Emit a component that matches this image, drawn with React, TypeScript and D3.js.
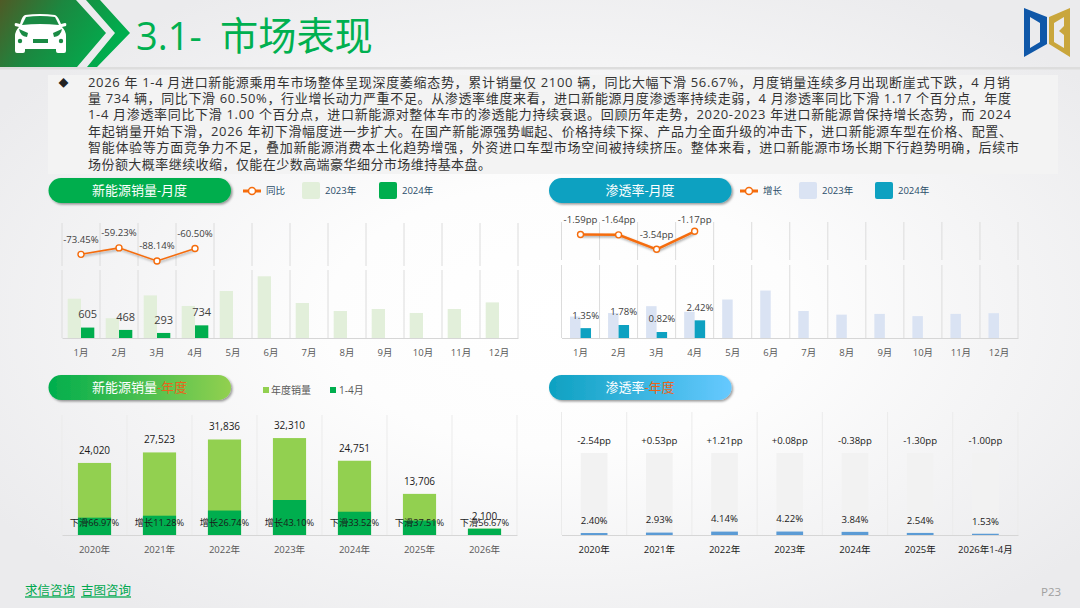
import React, { useEffect, useRef } from "react";
import * as d3 from "d3";

const months = ["1月", "2月", "3月", "4月", "5月", "6月", "7月", "8月", "9月", "10月", "11月", "12月"];

const sales2023 = [2279, 1148, 2470, 1858, 2726, 3580, 2030, 1566, 1682, 1450, 1682, 2065];
const sales2024 = [605, 468, 293, 734];
const salesYoy = [-73.45, -59.23, -88.14, -60.5];

const rate2023 = [2.94, 3.42, 4.36, 3.59, 5.27, 6.5, 3.7, 3.2, 3.3, 3.0, 3.3, 3.4];
const rate2024 = [1.35, 1.78, 0.82, 2.42];
const rateDiff = [-1.59, -1.64, -3.54, -1.17];

const salesYears = ["2020年", "2021年", "2022年", "2023年", "2024年", "2025年", "2026年"];
const yearTotal = [24020, 27523, 31836, 32310, 24751, 13706, 2100];
const yearJanApr = [5779, 6431, 8151, 11665, 7755, 4846, 2100];
const yearChange = ["下滑66.97%", "增长11.28%", "增长26.74%", "增长43.10%", "下滑33.52%", "下滑37.51%", "下滑56.67%"];

const rateYears = ["2020年", "2021年", "2022年", "2023年", "2024年", "2025年", "2026年1-4月"];
const yearRate = [2.4, 2.93, 4.14, 4.22, 3.84, 2.54, 1.53];
const yearRateDiff = ["-2.54pp", "+0.53pp", "+1.21pp", "+0.08pp", "-0.38pp", "-1.30pp", "-1.00pp"];

const summaryLines = [
  "2026 年 1-4 月进口新能源乘用车市场整体呈现深度萎缩态势，累计销量仅 2100 辆，同比大幅下滑 56.67%，月度销量连续多月出现断崖式下跌，4 月销",
  "量 734 辆，同比下滑 60.50%，行业增长动力严重不足。从渗透率维度来看，进口新能源月度渗透率持续走弱，4 月渗透率同比下滑 1.17 个百分点，年度",
  "1-4 月渗透率同比下滑 1.00 个百分点，进口新能源对整体车市的渗透能力持续衰退。回顾历年走势，2020-2023 年进口新能源曾保持增长态势，而 2024",
  "年起销量开始下滑，2026 年初下滑幅度进一步扩大。在国产新能源强势崛起、价格持续下探、产品力全面升级的冲击下，进口新能源车型在价格、配置、",
  "智能体验等方面竞争力不足，叠加新能源消费本土化趋势增强，外资进口车型市场空间被持续挤压。整体来看，进口新能源市场长期下行趋势明确，后续市",
  "场份额大概率继续收缩，仅能在少数高端豪华细分市场维持基本盘。",
];
const summaryWidths = [922, 923, 923, 924, 931, 403];

const FONT = '"Open Sans","Noto Sans CJK SC",sans-serif';
const GREEN = "#00ae4e";
const TEAL = "#0ea1c1";
const ORANGE = "#f56c0c";

type Sel = d3.Selection<SVGSVGElement, unknown, null, undefined>;

function gridLines(svg: Sel, xs: number[], y0: number, y1: number, color = "#dcdcdc") {
  svg
    .append("g")
    .selectAll("line")
    .data(xs)
    .enter()
    .append("line")
    .attr("x1", (d) => d)
    .attr("x2", (d) => d)
    .attr("y1", y0)
    .attr("y2", y1)
    .attr("stroke", color)
    .attr("stroke-width", 1);
}

function bottomAxis(svg: Sel, x: d3.ScaleBand<string>, y: number, color: string) {
  const g = svg
    .append("g")
    .attr("transform", `translate(0,${y})`)
    .call(d3.axisBottom(x).tickSize(0).tickPadding(11));
  g.select(".domain").attr("stroke", "#d6d6d6").attr("stroke-width", 1.2);
  g.selectAll("text").attr("font-family", FONT).attr("font-size", 9.5).attr("fill", color);
}

function label(svg: Sel, x: number, y: number, text: string, size = 10, fill = "#404040", anchor = "middle") {
  return svg
    .append("text")
    .attr("x", x)
    .attr("y", y)
    .attr("dy", "0.35em")
    .attr("text-anchor", anchor)
    .attr("font-family", FONT)
    .attr("font-size", size)
    .attr("fill", fill)
    .text(text);
}

function pill(svg: Sel, x: number, y: number, fill: string, parts: [string, string][]) {
  svg
    .append("rect")
    .attr("x", x)
    .attr("y", y)
    .attr("width", 182.5)
    .attr("height", 25)
    .attr("rx", 12.5)
    .attr("fill", fill)
    .attr("filter", "url(#pillShadow)");
  const t = label(svg, x + 91, y + 12.5, "", 13, "#fff");
  parts.forEach(([s, c]) => t.append("tspan").attr("fill", c).text(s));
}

function monthlyPanel(
  svg: Sel,
  opts: {
    left: number;
    right: number;
    lineTop: number;
    lineBottom: number;
    barTop: number;
    barDomain: number;
    lineDomain: number;
    lineY0: number;
    barWidth: number;
    prev: number[];
    curr: number[];
    change: number[];
    prevColor: string;
    currColor: string;
    currLabel: (d: number) => string;
    changeLabel: (d: number) => string;
    strokeWidth: number;
    valueSize: number;
    labelTop: number;
  }
) {
  const base = 338;
  const x = d3.scaleBand(months, [opts.left, opts.right]);
  const bw = x.bandwidth();
  const xs = months.map((m) => x(m)!).concat(opts.right);
  gridLines(svg, xs, opts.lineTop, opts.lineBottom);
  gridLines(svg, xs, opts.barTop, base);

  const y = d3.scaleLinear([0, opts.barDomain], [base, opts.barTop]);
  const inner = d3.scaleBand(["prev", "curr"], [bw / 2 - opts.barWidth, bw / 2 + opts.barWidth]);

  svg
    .append("g")
    .selectAll("rect")
    .data(opts.prev)
    .enter()
    .append("rect")
    .attr("x", (_, i) => x(months[i])! + inner("prev")!)
    .attr("y", (d) => y(d))
    .attr("width", inner.bandwidth())
    .attr("height", (d) => base - y(d))
    .attr("fill", opts.prevColor);

  svg
    .append("g")
    .selectAll("rect")
    .data(opts.curr)
    .enter()
    .append("rect")
    .attr("x", (_, i) => x(months[i])! + inner("curr")!)
    .attr("y", (d) => y(d))
    .attr("width", inner.bandwidth())
    .attr("height", (d) => base - y(d))
    .attr("fill", opts.currColor);

  opts.curr.forEach((d, i) => {
    label(
      svg,
      x(months[i])! + inner("curr")! + inner.bandwidth() / 2,
      y(d) - 13,
      opts.currLabel(d),
      opts.valueSize,
      "#404040"
    );
  });

  const yl = d3.scaleLinear([opts.lineDomain, 0], [opts.lineBottom + 0.4, opts.lineY0]);
  const cx = (i: number) => x(months[i])! + bw / 2;
  const line = d3
    .line<number>()
    .x((_, i) => cx(i))
    .y((d) => yl(d));
  svg
    .append("path")
    .attr("d", line(opts.change))
    .attr("fill", "none")
    .attr("stroke", ORANGE)
    .attr("stroke-width", opts.strokeWidth)
    .attr("filter", "url(#lineShadow)");
  svg
    .append("g")
    .selectAll("circle")
    .data(opts.change)
    .enter()
    .append("circle")
    .attr("cx", (_, i) => cx(i))
    .attr("cy", (d) => yl(d))
    .attr("r", 3)
    .attr("fill", "#fff")
    .attr("stroke", ORANGE)
    .attr("stroke-width", 1.4);
  opts.change.forEach((d, i) => {
    label(svg, cx(i), Math.max(yl(d) - 15, opts.labelTop), opts.changeLabel(d), 9.6, "#404040");
  });

  bottomAxis(svg, x, base, "#595959");
}

function legendMarker(svg: Sel, x: number, y: number) {
  svg
    .append("line")
    .attr("x1", x)
    .attr("x2", x + 18)
    .attr("y1", y)
    .attr("y2", y)
    .attr("stroke", ORANGE)
    .attr("stroke-width", 3);
  svg
    .append("circle")
    .attr("cx", x + 9)
    .attr("cy", y)
    .attr("r", 3.5)
    .attr("fill", "#fff")
    .attr("stroke", ORANGE)
    .attr("stroke-width", 1.5);
}

function legendSwatch(svg: Sel, x: number, fill: string, text: string) {
  svg
    .append("rect")
    .attr("x", x)
    .attr("y", 182)
    .attr("width", 18)
    .attr("height", 17)
    .attr("rx", 2)
    .attr("fill", fill);
  label(svg, x + 23, 191, text, 9.5, "#2a4d69", "start");
}

function drawChart(svg: Sel) {
  const defs = svg.append("defs");
  const bg = defs.append("radialGradient").attr("id", "bg").attr("cx", "52%").attr("cy", "52%").attr("r", "62%");
  bg.append("stop").attr("offset", "0%").attr("stop-color", "#ffffff");
  bg.append("stop").attr("offset", "35%").attr("stop-color", "#fdfdfd");
  bg.append("stop").attr("offset", "100%").attr("stop-color", "#ebebed");

  const head = defs
    .append("linearGradient")
    .attr("id", "head")
    .attr("x1", "0%")
    .attr("y1", "0%")
    .attr("x2", "100%")
    .attr("y2", "35%");
  head.append("stop").attr("offset", "0%").attr("stop-color", "#4f5a26");
  head.append("stop").attr("offset", "45%").attr("stop-color", "#1b8840");
  head.append("stop").attr("offset", "100%").attr("stop-color", "#00ae4e");

  const pillA = defs.append("linearGradient").attr("id", "pillA");
  pillA.append("stop").attr("offset", "0%").attr("stop-color", GREEN);
  pillA.append("stop").attr("offset", "100%").attr("stop-color", "#92d050");
  const pillB = defs.append("linearGradient").attr("id", "pillB");
  pillB.append("stop").attr("offset", "0%").attr("stop-color", TEAL);
  pillB.append("stop").attr("offset", "100%").attr("stop-color", "#66c9ff");

  defs
    .append("filter")
    .attr("id", "pillShadow")
    .attr("x", "-5%")
    .attr("y", "-20%")
    .attr("width", "110%")
    .attr("height", "150%")
    .append("feDropShadow")
    .attr("dx", 1.5)
    .attr("dy", 1.5)
    .attr("stdDeviation", 1.2)
    .attr("flood-color", "#000")
    .attr("flood-opacity", 0.4);
  defs
    .append("filter")
    .attr("id", "lineShadow")
    .attr("x", "-5%")
    .attr("y", "-30%")
    .attr("width", "110%")
    .attr("height", "180%")
    .append("feDropShadow")
    .attr("dx", 1)
    .attr("dy", 1.5)
    .attr("stdDeviation", 1)
    .attr("flood-color", "#000")
    .attr("flood-opacity", 0.35);

  svg.append("rect").attr("width", 1080).attr("height", 608).attr("fill", "url(#bg)");

  // header
  svg.append("rect").attr("y", 67).attr("width", 1080).attr("height", 2.5).attr("fill", "#dddddd");
  svg
    .append("path")
    .attr("d", "M0,0H76L106,33L77,67H0Z M86,0H100L130,33L97,67H87L115,33Z")
    .attr("fill", "url(#head)");
  svg
    .append("path")
    .attr(
      "d",
      "M25,15Q40,13 55,15Q58,16 61,24L65,23Q67,23 66,26L62,27Q66,31 66,36V51Q66,53 64,53H58Q56,53 56,51V49H25V51Q25,53 23,53H17Q15,53 15,51V36Q15,31 19,27L15,26Q14,23 16,23L20,24Q22,16 25,15Z"
    )
    .attr("fill", "#fff");
  svg.append("path").attr("d", "M26,17Q40,15 55,17L59,25Q40,23 22,25Z").attr("fill", "#1a8a44");
  svg.append("path").attr("d", "M19,29L28,33L27,37Q20,36 19,29Z M62,29L53,33L54,37Q61,36 62,29Z").attr("fill", "#1a8a44");
  svg.append("rect").attr("x", 33).attr("y", 39).attr("width", 15).attr("height", 4).attr("fill", "#1a8a44");
  svg.append("circle").attr("cx", 20).attr("cy", 41).attr("r", 2.2).attr("fill", "#1a8a44");
  svg.append("circle").attr("cx", 61).attr("cy", 41).attr("r", 2.2).attr("fill", "#1a8a44");

  label(svg, 136, 37, "3.1-", 38, "#00b050", "start");
  label(svg, 220, 37, "市场表现", 38.2, "#00b050", "start");

  // logo
  svg
    .append("path")
    .attr("d", "M1024,8L1047,17V44L1024,57Z M1030,17V48L1040,42V23Z")
    .attr("fill", "#0f57a8")
    .attr("fill-rule", "evenodd");
  svg
    .append("path")
    .attr("d", "M1049,17L1070,8V57L1049,44Z M1054,23V42L1064,48V35L1059,31L1064,26V17Z")
    .attr("fill", "#c9a63c")
    .attr("fill-rule", "evenodd");

  // summary block
  svg.append("rect").attr("x", 48).attr("y", 75).attr("width", 1010).attr("height", 99).attr("fill", "#f3f3f3");
  label(svg, 63.5, 83, "◆", 10, "#222");
  summaryLines.forEach((s, i) => {
    label(svg, 88, 82 + i * 16.4, s, 13, "#333", "start")
      .attr("textLength", summaryWidths[i])
      .attr("lengthAdjust", "spacing");
  });

  // monthly sales
  pill(svg, 48.5, 178, GREEN, [["新能源销量-月度", "#fff"]]);
  legendMarker(svg, 243, 191);
  label(svg, 266, 191, "同比", 9.5, "#2a4d69", "start");
  legendSwatch(svg, 302, "#e2efda", "2023年");
  legendSwatch(svg, 379, GREEN, "2024年");
  monthlyPanel(svg, {
    left: 62,
    right: 518,
    lineTop: 223,
    lineBottom: 266,
    barTop: 270,
    barDomain: 3944,
    lineDomain: -100,
    lineY0: 221,
    barWidth: 13.3,
    prev: sales2023,
    curr: sales2024,
    change: salesYoy,
    prevColor: "#e2efda",
    currColor: GREEN,
    currLabel: (d) => String(d),
    changeLabel: (d) => d.toFixed(2) + "%",
    strokeWidth: 1.5,
    valueSize: 11,
    labelTop: 0,
  });

  // monthly rate
  pill(svg, 549, 178, TEAL, [["渗透率-月度", "#fff"]]);
  legendMarker(svg, 740, 191);
  label(svg, 763, 191, "增长", 9.5, "#2a4d69", "start");
  legendSwatch(svg, 799, "#dae3f3", "2023年");
  legendSwatch(svg, 875, TEAL, "2024年");
  monthlyPanel(svg, {
    left: 561.5,
    right: 1018,
    lineTop: 222,
    lineBottom: 260,
    barTop: 265,
    barDomain: 10,
    lineDomain: -5,
    lineY0: 222.4,
    barWidth: 10.5,
    prev: rate2023,
    curr: rate2024,
    change: rateDiff,
    prevColor: "#dae3f3",
    currColor: TEAL,
    currLabel: (d) => d.toFixed(2) + "%",
    changeLabel: (d) => d.toFixed(2) + "pp",
    strokeWidth: 2.5,
    valueSize: 9.6,
    labelTop: 220,
  });

  // yearly sales
  pill(svg, 48.5, 375, "url(#pillA)", [
    ["新能源销量", "#fff"],
    ["-年度", "#e8641b"],
  ]);
  svg.append("rect").attr("x", 263).attr("y", 387).attr("width", 6).attr("height", 6).attr("fill", "#92d050");
  label(svg, 271, 390, "年度销量", 10, "#595959", "start");
  svg.append("rect").attr("x", 330).attr("y", 387).attr("width", 6).attr("height", 6).attr("fill", GREEN);
  label(svg, 339, 390, "1-4月", 10, "#595959", "start");

  const base = 535;
  const xa = d3.scaleBand(salesYears, [62, 517]);
  gridLines(svg, salesYears.map((d) => xa(d)!).concat(517), 415, base, "#ebebeb");
  const ya = d3.scaleLinear([0, 40000], [base, 415]);
  const barA = xa.bandwidth() * 0.51;
  const offA = (xa.bandwidth() - barA) / 2;
  svg
    .append("g")
    .selectAll("rect")
    .data(yearTotal)
    .enter()
    .append("rect")
    .attr("x", (_, i) => xa(salesYears[i])! + offA)
    .attr("y", (d) => ya(d))
    .attr("width", barA)
    .attr("height", (d) => base - ya(d))
    .attr("fill", "#92d050");
  svg
    .append("g")
    .selectAll("rect")
    .data(yearJanApr)
    .enter()
    .append("rect")
    .attr("x", (_, i) => xa(salesYears[i])! + offA)
    .attr("y", (d) => ya(d))
    .attr("width", barA)
    .attr("height", (d) => base - ya(d))
    .attr("fill", GREEN);
  salesYears.forEach((yr, i) => {
    const c = xa(yr)! + xa.bandwidth() / 2;
    label(svg, c, ya(yearTotal[i]) - 12.5, d3.format(",")(yearTotal[i]), 10, "#1a1a1a");
    label(svg, c, 523, yearChange[i], 9.2, "#1a1a1a");
  });
  bottomAxis(svg, xa, base, "#595959");

  // yearly rate
  pill(svg, 549, 375, "url(#pillB)", [
    ["渗透率", "#fff"],
    ["-年度", "#e8641b"],
  ]);
  const xb = d3.scaleBand(rateYears, [561.5, 1018]);
  gridLines(svg, rateYears.map((d) => xb(d)!).concat(1018), 412, base, "#ebebeb");
  const yb = d3.scaleLinear([0, 100], [base, 453]);
  const barB = xb.bandwidth() * 0.41;
  const offB = (xb.bandwidth() - barB) / 2;
  svg
    .append("g")
    .selectAll("rect")
    .data(yearRate)
    .enter()
    .append("rect")
    .attr("x", (_, i) => xb(rateYears[i])! + offB)
    .attr("y", yb(100))
    .attr("width", barB)
    .attr("height", base - yb(100))
    .attr("fill", "#f2f2f2");
  svg
    .append("g")
    .selectAll("rect")
    .data(yearRate)
    .enter()
    .append("rect")
    .attr("x", (_, i) => xb(rateYears[i])! + offB)
    .attr("y", (d) => yb(d))
    .attr("width", barB)
    .attr("height", (d) => base - yb(d))
    .attr("fill", "#5b9bd5");
  rateYears.forEach((yr, i) => {
    const c = xb(yr)! + xb.bandwidth() / 2;
    label(svg, c, 440.7, yearRateDiff[i], 9.6, "#1a1a1a");
    label(svg, c, yb(yearRate[i]) - 12.5, yearRate[i].toFixed(2) + "%", 9.6, "#1a1a1a");
  });
  bottomAxis(svg, xb, base, "#1a1a1a");

  // footer
  label(svg, 25, 591, "求信咨询", 12.5, "#00a84f", "start").attr("text-decoration", "underline");
  label(svg, 81, 591, "吉图咨询", 12.5, "#00a84f", "start").attr("text-decoration", "underline");
  label(svg, 1041, 592, "P23", 11.5, "#a0a0a0", "start");
}

export default function App() {
  const ref = useRef<SVGSVGElement | null>(null);

  useEffect(() => {
    if (!ref.current) return;
    const svg = d3.select(ref.current);
    svg.selectAll("*").remove();
    drawChart(svg as Sel);
  });

  return <svg ref={ref} width={1080} height={608} style={{ position: "absolute", left: 0, top: 0 }} />;
}
